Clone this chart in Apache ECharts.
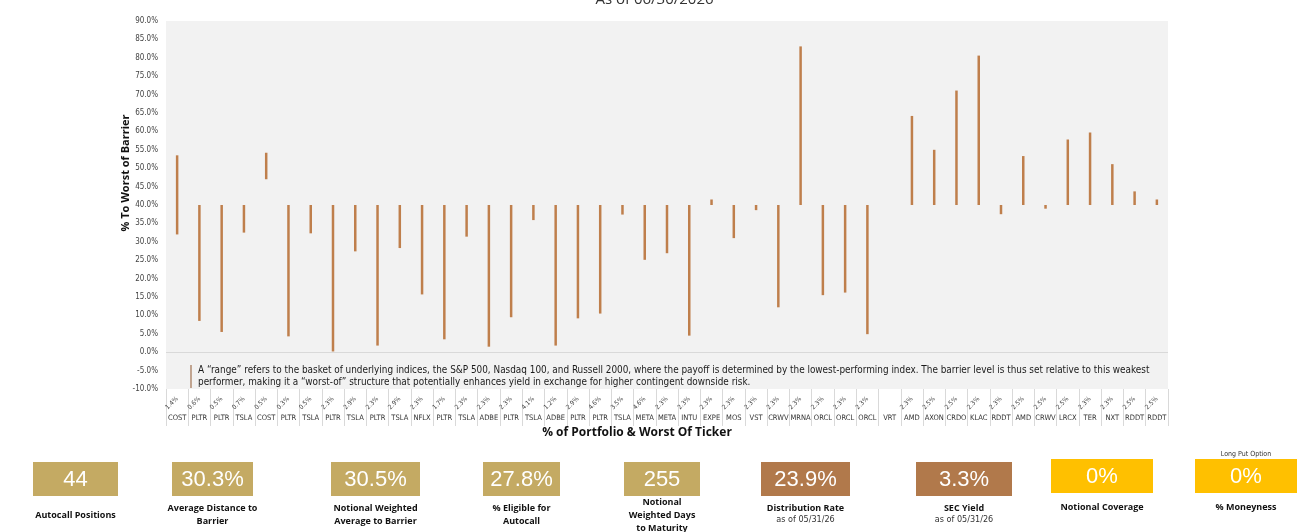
<!DOCTYPE html>
<html>
<head>
<meta charset="utf-8">
<script src="https://cdn.jsdelivr.net/npm/echarts@6/dist/echarts.min.js"></script>
<style>
html,body{margin:0;padding:0;background:#ffffff;}
#chart{width:1309px;height:532px;}
</style>
</head>
<body>
<div id="chart"></div>
<script>
// ---- data ----
const tickers = ['COST','PLTR','PLTR','TSLA','COST','PLTR','TSLA','PLTR','TSLA','PLTR','TSLA','NFLX','PLTR','TSLA','ADBE','PLTR','TSLA','ADBE','PLTR','PLTR','TSLA','META','META','INTU','EXPE','MOS','VST','CRWV','MRNA','ORCL','ORCL','ORCL','VRT','AMD','AXON','CRDO','KLAC','RDDT','AMD','CRWV','LRCX','TER','NXT','RDDT','RDDT'];
const portfolioPct = ['1.4%','0.6%','0.5%','0.7%','0.5%','0.3%','0.5%','2.3%','2.9%','2.3%','2.9%','2.3%','1.7%','2.3%','2.3%','2.3%','4.1%','1.2%','2.9%','4.6%','3.5%','4.6%','2.3%','2.3%','2.3%','2.3%','2.3%','2.3%','2.3%','2.3%','2.3%','2.3%','','2.3%','2.5%','2.5%','2.3%','2.3%','2.5%','2.5%','2.5%','2.3%','2.3%','2.5%','2.5%'];
const rangeLow  = [32.0,8.5,5.5,32.5,47.0,4.3,32.3,0.2,27.4,1.8,28.3,15.7,3.5,31.4,1.5,9.5,35.9,1.8,9.2,10.5,37.4,25.1,26.9,4.5,40.0,31.0,38.6,12.2,40.0,15.5,16.2,4.9,null,40.0,40.0,40.0,40.0,37.5,40.0,39.0,40.0,40.0,40.0,40.0,40.0];
const rangeHigh = [53.5,40.0,40.0,40.0,54.2,40.0,40.0,40.0,40.0,40.0,40.0,40.0,40.0,40.0,40.0,40.0,40.0,40.0,40.0,40.0,40.0,40.0,40.0,40.0,41.5,40.0,40.0,40.0,83.1,40.0,40.0,40.0,null,64.2,55.0,71.1,80.6,40.0,53.3,40.0,57.8,59.7,51.1,43.7,41.5];
const yMin = -10, yMax = 90, yStep = 5;

const kpiValues = ['44','30.3%','30.5%','27.8%','255','23.9%','3.3%','0%','0%'];
const kpiLabels = [['Autocall Positions'],['Average Distance to','Barrier'],['Notional Weighted','Average to Barrier'],['% Eligible for','Autocall'],['Notional','Weighted Days','to Maturity'],['Distribution Rate'],['SEC Yield'],['Notional Coverage'],['% Moneyness']];
const kpiSubs = ['','','','','','as of 05/31/26','as of 05/31/26','',''];
const kpiTop = ['','','','','','','','','Long Put Option'];
const titleText = 'As of 06/30/2026';
const yName = '% To Worst of Barrier';
const xName = '% of Portfolio & Worst Of Ticker';
const noteLines = ['A \u201crange\u201d refers to the basket of underlying indices, the S&P 500, Nasdaq 100, and Russell 2000, where the payoff is determined by the lowest-performing index. The barrier level is thus set relative to this weakest',
'performer, making it a \u201cworst-of\u201d structure that potentially enhances yield in exchange for higher contingent downside risk.'];

// ---- layout ----
const GOLD = '#c4aa63', BROWN = '#b1794b', YEL = '#ffc000';
const boxes = [
  {x:33,y:462,w:85,h:34,c:GOLD},
  {x:172,y:462,w:81,h:34,c:GOLD},
  {x:331,y:462,w:89,h:34,c:GOLD},
  {x:483,y:462,w:77,h:34,c:GOLD},
  {x:624,y:462,w:76,h:34,c:GOLD},
  {x:761,y:462,w:89,h:34,c:BROWN},
  {x:916,y:462,w:96,h:34,c:BROWN},
  {x:1051,y:459,w:102,h:34,c:YEL},
  {x:1195,y:459,w:102,h:34,c:YEL}
];
const labelFont = '"Liberation Sans Narrow","DejaVu Sans Condensed","Liberation Sans",sans-serif';

const graphics = [];
// title
graphics.push({type:'text', left:'center', top:-8, style:{text:titleText, font:'15px "Open Sans", sans-serif', fill:'#333'}});
// axis names
graphics.push({type:'text', x:126, y:173, rotation:Math.PI/2, style:{text:yName, font:'bold 11px "Open Sans", sans-serif', fill:'#111', align:'center', verticalAlign:'middle'}});
graphics.push({type:'text', x:637, y:433, style:{text:xName, font:'bold 12px "Open Sans", sans-serif', fill:'#111', align:'center', verticalAlign:'middle'}});
// note
graphics.push({type:'line', shape:{x1:191,y1:365,x2:191,y2:388}, style:{stroke:'#a0714f', lineWidth:1.2}, z:10});
graphics.push({type:'text', x:198, y:364, z:10, style:{text:noteLines.join('\n'), font:'9.9px ' + labelFont, fill:'#1a1a1a', lineHeight:12}});
// kpis
boxes.forEach((b,i)=>{
  graphics.push({type:'rect', shape:{x:b.x,y:b.y,width:b.w,height:b.h}, style:{fill:b.c}});
  graphics.push({type:'text', x:b.x+b.w/2, y:b.y+b.h/2+1, style:{text:kpiValues[i], font:'22px "Liberation Sans", Arial, sans-serif', fill:'#ffffff', align:'center', verticalAlign:'middle'}});
  const cx = b.x + b.w/2;
  const ly = i===4 ? 502 : (kpiLabels[i].length>1 || kpiSubs[i] ? 508 : (i>=7 ? 507 : 515));
  kpiLabels[i].forEach((t,j)=>{
    graphics.push({type:'text', x:cx, y:ly + j*13, style:{text:t, font:'bold 9px "Open Sans", sans-serif', fill:'#111', align:'center', verticalAlign:'middle'}});
  });
  if (kpiSubs[i]) graphics.push({type:'text', x:cx, y:ly+12, style:{text:kpiSubs[i], font:'9px ' + labelFont, fill:'#333', align:'center', verticalAlign:'middle'}});
  if (kpiTop[i]) graphics.push({type:'text', x:cx, y:454, style:{text:kpiTop[i], font:'7px ' + labelFont, fill:'#333', align:'center', verticalAlign:'middle'}});
});

const chart = echarts.init(document.getElementById('chart'));
chart.setOption({
  animation:false,
  backgroundColor:'#ffffff',
  grid:{left:166, right:141, top:21, bottom:143, show:true, backgroundColor:'#f2f2f2', borderWidth:0},
  xAxis:[
    {type:'category', data:tickers, position:'bottom',
     axisLine:{show:false, onZero:false},
     axisTick:{show:true, interval:0, length:37, lineStyle:{color:'#d9d9d9'}},
     axisLabel:{interval:0, margin:25, fontSize:7.5, color:'#333', fontFamily:labelFont}},
    {type:'category', data:portfolioPct, position:'bottom',
     axisLine:{show:false, onZero:false}, axisTick:{show:false},
     axisLabel:{interval:0, rotate:45, margin:9, fontSize:6.5, color:'#444', fontFamily:labelFont}}
  ],
  yAxis:{type:'value', min:yMin, max:yMax, interval:yStep,
    axisLine:{show:false}, axisTick:{show:false}, splitLine:{show:false},
    axisLabel:{fontSize:8, color:'#444', margin:8, fontFamily:labelFont, formatter:v=>v.toFixed(1)+'%'}},
  series:[
    {type:'bar', stack:'r', barWidth:2.5, itemStyle:{color:'transparent'}, silent:true,
     data:rangeLow.map(v=>v===null?'-':v),
     markLine:{silent:true, symbol:'none', label:{show:false}, lineStyle:{color:'#d9d9d9', type:'solid', width:1}, data:[{yAxis:0}]}},
    {type:'bar', stack:'r', barWidth:2.5, itemStyle:{color:'#bf7f4c'},
     data:rangeHigh.map((v,i)=>v===null?'-':+(v-rangeLow[i]).toFixed(2))}
  ],
  graphic:graphics
});
</script>
</body>
</html>
